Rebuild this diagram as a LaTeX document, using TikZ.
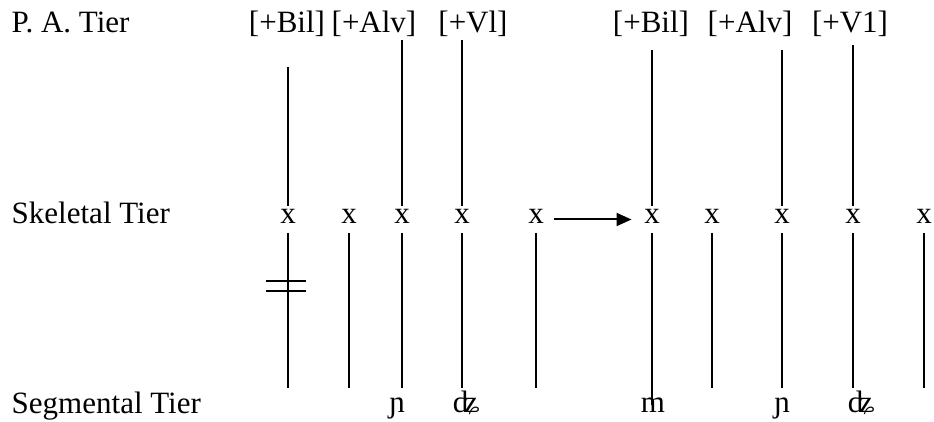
\documentclass[tikz,border=0pt]{standalone}
\usepackage{fontspec}
\setmainfont{Liberation Serif}
\usetikzlibrary{arrows.meta}
\begin{document}
\begin{tikzpicture}[x=1pt, y=-1pt, line width=1.5pt,
    every node/.style={font=\fontsize{31}{36}\selectfont},
    tierlabel/.style={anchor=base west, inner sep=0pt},
    feature/.style={anchor=base, inner sep=0pt},
    slot/.style={anchor=base, inner xsep=0pt, inner ysep=0pt, text height=16pt, text depth=9pt},
    segment/.style={anchor=base, inner sep=0pt}]
    \useasboundingbox (0,0) rectangle (934,422);

    % Nombres de los niveles
    \node[tierlabel] (patier) at (11,33) {P. A. Tier};
    \node[tierlabel] (skeltier) at (11,223) {Skeletal Tier};
    \node[tierlabel] (segtier) at (11,413) {Segmental Tier};

    % Rasgos de punto de articulacion
    \node[feature] (bilA) at (287,33) {[+Bil]};
    \node[feature] (alvA) at (374,33) {[+Alv]};
    \node[feature] (vlA) at (473,33) {[+Vl]};
    \node[feature] (bilB) at (651,33) {[+Bil]};
    \node[feature] (alvB) at (750,33) {[+Alv]};
    \node[feature] (vlB) at (850,33) {[+V1]};

    % Posiciones del esqueleto
    \node[slot] (s1) at (288,223) {x};
    \node[slot] (s2) at (349,223) {x};
    \node[slot] (s3) at (402,223) {x};
    \node[slot] (s4) at (462,223) {x};
    \node[slot] (s5) at (536,223) {x};
    \node[slot] (s6) at (652,223) {x};
    \node[slot] (s7) at (712,223) {x};
    \node[slot] (s8) at (782,223) {x};
    \node[slot] (s9) at (853,223) {x};
    \node[slot] (s10) at (924,223) {x};

    % Segmentos
    \node[segment] (nyA) at (397,412) {ɲ};
    \node[segment] (dzA) at (466,412) {ʥ};
    \node[segment] (mB) at (653,412) {m};
    \node[segment] (nyB) at (782,412) {ɲ};
    \node[segment] (dzB) at (861,412) {ʥ};

    % Extremos libres de las lineas de asociacion
    \coordinate (tbilA) at (288,67);
    \coordinate (talvA) at (402,40);
    \coordinate (tvlA) at (462,40);
    \coordinate (tbilB) at (652,50);
    \coordinate (talvB) at (782,50);
    \coordinate (tvlB) at (853,45);
    \coordinate (b1) at (288,388);
    \coordinate (b2) at (349,388);
    \coordinate (b3) at (402,388);
    \coordinate (b4) at (462,388);
    \coordinate (b5) at (536,388);
    \coordinate (b6) at (652,405);
    \coordinate (b7) at (712,388);
    \coordinate (b8) at (782,388);
    \coordinate (b9) at (853,388);
    \coordinate (b10) at (924,388);

    % Lineas rasgo - esqueleto
    \draw (tbilA) -- (s1.north);
    \draw (talvA) -- (s3.north);
    \draw (tvlA) -- (s4.north);
    \draw (tbilB) -- (s6.north);
    \draw (talvB) -- (s8.north);
    \draw (tvlB) -- (s9.north);

    % Lineas esqueleto - segmento
    \draw (s1.south) -- (b1);
    \draw (s2.south) -- (b2);
    \draw (s3.south) -- (b3);
    \draw (s4.south) -- (b4);
    \draw (s5.south) -- (b5);
    \draw (s6.south) -- (b6);
    \draw (s7.south) -- (b7);
    \draw (s8.south) -- (b8);
    \draw (s9.south) -- (b9);
    \draw (s10.south) -- (b10);

    % Desasociacion
    \draw (266,281) -- (306,281);
    \draw (266,291) -- (306,291);

    % Flecha
    \draw[line width=2pt, -{Triangle[length=15pt, width=13pt]}, shorten <=9pt, shorten >=12pt]
        (s5.east) -- (s6.west);
\end{tikzpicture}
\end{document}
